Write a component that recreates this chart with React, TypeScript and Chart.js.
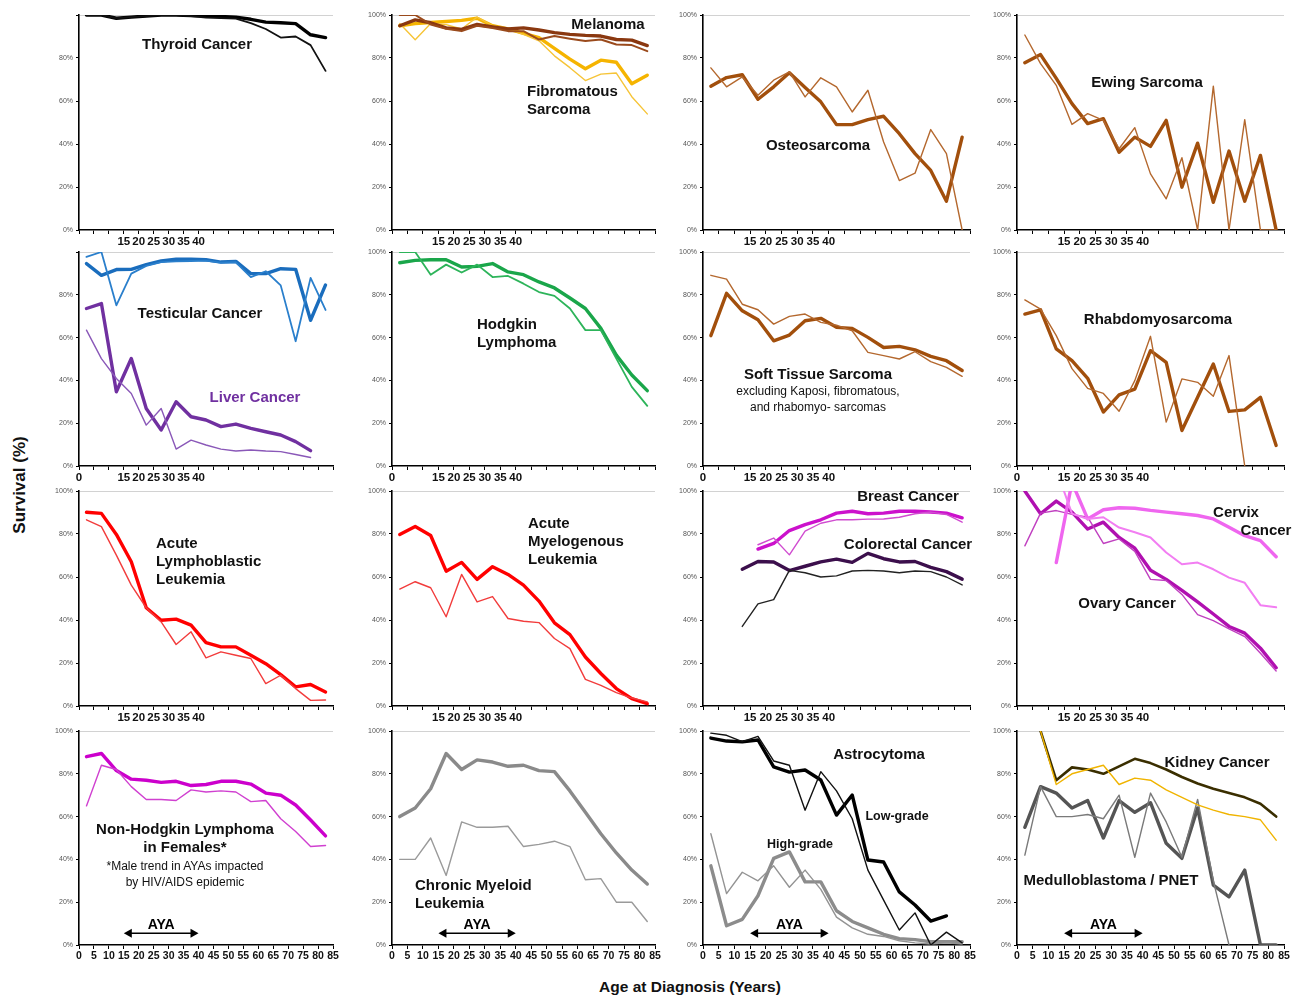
import React, { useEffect, useRef } from 'react';
import { Chart, registerables } from 'chart.js';

Chart.register(...registerables);

// ---------- data ----------
const AGES = [2.5, 7.5, 12.5, 17.5, 22.5, 27.5, 32.5, 37.5, 42.5, 47.5, 52.5, 57.5, 62.5, 67.5, 72.5, 77.5, 82.5];
const AYA_TICKS = [15, 20, 25, 30, 35, 40];
const AYA_TICKS_WITH_ZERO = [0, 15, 20, 25, 30, 35, 40];
const ALL_TICKS = [0, 5, 10, 15, 20, 25, 30, 35, 40, 45, 50, 55, 60, 65, 70, 75, 80, 85];
const Y_TICKS = [0, 20, 40, 60, 80, 100];
const AYA_RANGE = [15, 40];

const thyroidThick = [100, 100, 98.5, 99, 99.5, 100, 100, 99.7, 99.5, 99.3, 99, 98, 96.7, 96.4, 96, 90.8, 89.5];
const thyroidThin = [100, 100, 98.5, 99, 99.5, 100, 100, 99.5, 98.8, 98.5, 98.3, 96.2, 93.5, 89.5, 90, 86, 74];

const melanomaThick = [95, 97.7, 96.4, 94, 93.3, 95.6, 94.5, 93.5, 94, 93, 91.8, 91, 90.5, 90.2, 88.6, 88.3, 85.8];
const melanomaThin = [100, 100, 95.6, 93.6, 92.5, 95, 94, 92.5, 92.5, 88.6, 90.2, 89, 87.9, 88.6, 86.3, 86, 83.2];
const fibroThick = [95, 96, 96.5, 97, 97.5, 98.5, 95, 93.5, 91.5, 89.5, 84.5, 79.5, 75, 79, 78, 68, 72];
const fibroThin = [96, 88.5, 96, 95.5, 93.5, 99, 95, 93.5, 91, 88, 81, 75.5, 69.5, 72.5, 73, 62, 54];

const osteoThick = [66.9, 70.9, 72.2, 60.8, 66.6, 73.1, 66.3, 59.6, 49, 49, 51.3, 52.9, 44.8, 35.5, 27.7, 13.4, 43.2];
const osteoThin = [75.4, 66.6, 71.2, 62.7, 69.7, 73.6, 61.9, 70.8, 66.6, 54.9, 65, 40.9, 23, 26.4, 46.7, 35.5, 0];

const ewingThick = [77.8, 81.6, 70.5, 58.8, 49.5, 51.8, 36.2, 43.2, 38.9, 51, 19.9, 40.4, 12.9, 36.7, 13.4, 34.7, 0];
const ewingThin = [90.7, 77.4, 67.3, 49.1, 54.1, 51, 37.8, 47.6, 26.1, 14.5, 33.6, 0, 66.9, 0, 51.3, 0, 0];

const testicularThick = [94.6, 89.1, 91.8, 91.9, 94.1, 95.8, 96.6, 96.6, 96.4, 95.3, 95.6, 89.9, 89.9, 92.2, 91.9, 68.1, 84.6];
const testicularThin = [97.7, 100, 75.1, 89.9, 93.5, 95.3, 95.6, 95.8, 96, 95, 95.2, 88.3, 91, 84.4, 58.3, 87.9, 72.9];
const liverThick = [73.6, 75.9, 34.7, 50.2, 26.9, 16.8, 30, 23, 21.5, 18.4, 19.6, 17.6, 16, 14.5, 11.4, 7.2, null];
const liverThin = [63.5, 50.2, 40.9, 33.9, 19.1, 26.9, 7.9, 12.1, 9.8, 7.9, 7, 7.5, 7, 6.7, 5.4, 4, null];

const hodgkinThick = [95, 96.1, 96.4, 96.4, 93, 93.3, 94.6, 90.7, 89.4, 86, 83.2, 78.5, 73.6, 64.3, 51.8, 42.5, 35.2];
const hodgkinThin = [100, 100, 89.4, 94.1, 90.4, 94.1, 88.3, 88.8, 85.2, 81.3, 79.5, 73.6, 63.5, 63.5, 50.2, 37, 28.1];

const stsThick = [60.9, 80.7, 72.5, 68.3, 58.5, 61.2, 67.9, 69, 64.8, 64.3, 60.1, 55.4, 55.9, 54.3, 51.2, 49.2, 44.6];
const stsThin = [89.1, 87.3, 75.6, 73, 66.3, 69.9, 71, 67.1, 65.8, 63.2, 53.1, 51.6, 50, 53.4, 48.8, 46.1, 41.9];

const rhabdoThick = [71, 73, 54.7, 49.2, 41, 25.2, 33.2, 35.9, 53.9, 48.4, 16.6, 32.1, 47.7, 25.5, 26.2, 32.1, 9.6];
const rhabdoThin = [77.6, 73.3, 60.9, 45.5, 36.3, 33.9, 25.6, 39.9, 60.6, 20.5, 40.7, 39.1, 32.6, 51.6, 0, null, null];

const allThick = [90.1, 89.6, 79.8, 67.1, 45.7, 39.9, 40.4, 37.6, 29.5, 27.5, 27.5, 23.6, 19.7, 14.6, 8.9, 10, 6.5];
const allThin = [86.6, 83.4, 70.2, 56.2, 45.7, 39.1, 28.6, 34.5, 22.4, 25.2, 23.6, 22.1, 10.4, 14.3, 8.1, 2.6, 2.8];

const amlThick = [79.8, 83.5, 79.3, 62.7, 66.8, 58.9, 64.8, 61.2, 56.2, 48.8, 38.7, 33.2, 22.8, 15.1, 8.1, 3.4, 1.1];
const amlThin = [54.4, 57.8, 55, 41.5, 61.2, 48.4, 50.9, 40.7, 39.4, 38.8, 31.4, 26.7, 12.4, 9.6, 6.2, 3.7, 1.9];

const breastThick = [null, null, null, 73, 75.6, 81.6, 84.4, 86.6, 89.7, 90.6, 89.4, 89.7, 90.6, 90.6, 90.2, 89.7, 87.5];
const breastThin = [null, null, null, 75, 78.1, 70.3, 81.3, 85, 86.6, 86.6, 86.9, 87, 87.8, 89.4, 90.2, 89.1, 85.5];
const colorectalThick = [null, null, 63.6, 67.2, 67, 63, 65, 67, 68.3, 66.8, 71, 68.5, 67, 67.2, 64.5, 62.5, 59];
const colorectalThin = [null, null, 37, 47.5, 49.5, 63.1, 62, 60, 60.5, 62.8, 63.1, 62.8, 62, 62.8, 62.5, 60, 56.3];

const ovaryThick = [100, 89.4, 95.3, 90.2, 82.3, 85.5, 78.4, 73.4, 63.1, 58.9, 53.8, 48.4, 42.8, 37, 33.9, 26.9, 17.8];
const ovaryThin = [74.5, 89.7, 90.9, 89.1, 87.8, 75.6, 77.7, 71.9, 58.9, 58.4, 51.9, 42.5, 39.7, 35.9, 32.3, 24.5, 16.3];
const cervixThick = [null, null, 66.7, 104, 87, 91.3, 92.2, 92, 91, 90.2, 89.4, 88.6, 87, 83.1, 79.2, 76.9, 69.4];
const cervixThin = [null, null, 110, 89.5, 87, 87.8, 83, 80.8, 78.4, 71.4, 65.9, 66.7, 63.6, 59.7, 57.3, 46.9, 45.9];

const nhlThick = [88, 89.5, 81.5, 77.5, 77, 76, 76.5, 74.5, 75, 76.5, 76.5, 75.2, 71, 70, 65.4, 58.4, 51];
const nhlThin = [65, 84, 82, 74, 68, 68, 67.5, 72.5, 71.5, 72, 71.5, 67, 67.5, 59, 53, 46, 46.5];

const cmlThick = [60, 64, 73, 89.5, 82, 86.5, 85.5, 83.5, 84, 81.5, 81, 72, 62, 52, 43, 35, 28.5];
const cmlThin = [40, 40, 50, 32.5, 57.5, 55, 55, 55.5, 46, 47, 48.5, 46, 30.5, 31, 20, 20, 11];

const astroLowThick = [96.7, 95.3, 94.9, 95.8, 83.2, 80.8, 81.8, 77.1, 60.7, 70.1, 39.7, 38.8, 24.8, 18.7, 11.2, 13.6, null];
const astroLowThin = [99, 98, 95, 97.5, 86, 84, 63, 81, 72, 59, 35, 21, 7, 15, 0, 6, 1];
const astroHighThick = [37, 9, 12, 23, 40.5, 43.5, 29.5, 29.5, 16, 11, 8, 5, 3, 2.5, 1.5, 1.5, 1.5];
const astroHighThin = [52, 24, 34, 30, 37, 27, 35, 26, 13, 8, 5, 4, 2, 1, 0.5, 1, 0.5];

const kidneyThick = [null, 100, 77, 83, 82, 80, 83.5, 87, 85, 82, 78.5, 75.5, 73, 71, 69, 66, 60];
const kidneyThin = [null, 100, 75, 80, 82, 84, 75, 78, 77, 72.5, 69, 65.5, 63, 61, 60, 58.5, 49];
const medulloThick = [55, 74, 71, 64, 67.5, 50, 67.5, 62, 66.5, 47.5, 40.5, 64, 28, 22.5, 35, 0, 0];
const medulloThin = [42, 74, 60, 60, 61, 59, 70, 41, 71, 57.5, 41, 68, 30, 0, null, null, null];

// ---------- layout ----------
const COLS = [
  { l: 79, r: 333 },
  { l: 392, r: 655 },
  { l: 703, r: 970 },
  { l: 1017, r: 1284 },
];
const ROWS = [
  { t: 15, b: 230 },
  { t: 252, b: 466 },
  { t: 491, b: 706 },
  { t: 731, b: 945 },
];
const PAD_L = 44;
const PAD_T = 8;
const PAD_R = 8;
const PAD_B = 24;

const TH = 3.4;
const TN = 1.4;

type Series = { values: (number | null)[]; color: string; width: number };
type PanelCfg = { col: number; row: number; series: Series[]; hide100?: boolean };

const PANELS: PanelCfg[] = [
  { col: 0, row: 0, hide100: true, series: [
    { values: thyroidThin, color: '#111', width: TN + 0.4 },
    { values: thyroidThick, color: '#000', width: TH },
  ] },
  { col: 1, row: 0, series: [
    { values: melanomaThin, color: '#9a4a1c', width: TN + 0.6 },
    { values: melanomaThick, color: '#8a3810', width: TH },
    { values: fibroThin, color: '#f6c437', width: TN },
    { values: fibroThick, color: '#f5b400', width: TH },
  ] },
  { col: 2, row: 0, series: [
    { values: osteoThin, color: '#b4682e', width: TN },
    { values: osteoThick, color: '#a24f0c', width: TH },
  ] },
  { col: 3, row: 0, series: [
    { values: ewingThin, color: '#b4682e', width: TN },
    { values: ewingThick, color: '#a24f0c', width: TH },
  ] },
  { col: 0, row: 1, hide100: true, series: [
    { values: testicularThin, color: '#2a7fcc', width: TN + 0.4 },
    { values: testicularThick, color: '#1a6dbd', width: TH },
    { values: liverThin, color: '#8a58b8', width: TN },
    { values: liverThick, color: '#7030a0', width: TH },
  ] },
  { col: 1, row: 1, series: [
    { values: hodgkinThin, color: '#2db45a', width: TN + 0.4 },
    { values: hodgkinThick, color: '#1aa64a', width: TH },
  ] },
  { col: 2, row: 1, series: [
    { values: stsThin, color: '#b4682e', width: TN },
    { values: stsThick, color: '#a24f0c', width: TH },
  ] },
  { col: 3, row: 1, series: [
    { values: rhabdoThin, color: '#b4682e', width: TN },
    { values: rhabdoThick, color: '#a24f0c', width: TH },
  ] },
  { col: 0, row: 2, series: [
    { values: allThin, color: '#f23c3c', width: TN },
    { values: allThick, color: '#ff0000', width: TH },
  ] },
  { col: 1, row: 2, series: [
    { values: amlThin, color: '#f23c3c', width: TN },
    { values: amlThick, color: '#ff0000', width: TH },
  ] },
  { col: 2, row: 2, series: [
    { values: colorectalThin, color: '#222', width: TN },
    { values: colorectalThick, color: '#3c0f4c', width: TH },
    { values: breastThin, color: '#d04cd0', width: TN },
    { values: breastThick, color: '#cc11cc', width: TH },
  ] },
  { col: 3, row: 2, series: [
    { values: cervixThin, color: '#f27ef2', width: TN + 0.6 },
    { values: cervixThick, color: '#ef66ef', width: TH },
    { values: ovaryThin, color: '#c040c0', width: TN },
    { values: ovaryThick, color: '#b010b0', width: TH },
  ] },
  { col: 0, row: 3, series: [
    { values: nhlThin, color: '#d040d0', width: TN },
    { values: nhlThick, color: '#cc00cc', width: TH },
  ] },
  { col: 1, row: 3, series: [
    { values: cmlThin, color: '#9a9a9a', width: TN },
    { values: cmlThick, color: '#8a8a8a', width: TH },
  ] },
  { col: 2, row: 3, series: [
    { values: astroLowThin, color: '#111', width: TN },
    { values: astroLowThick, color: '#000', width: TH },
    { values: astroHighThin, color: '#939393', width: TN },
    { values: astroHighThick, color: '#8c8c8c', width: TH },
  ] },
  { col: 3, row: 3, series: [
    { values: kidneyThin, color: '#f0b400', width: TN },
    { values: kidneyThick, color: '#3a2e00', width: 2.6 },
    { values: medulloThin, color: '#7a7a7a', width: TN },
    { values: medulloThick, color: '#555555', width: TH },
  ] },
];

type Note = { lines: string[]; x: number; y: number; align?: 'c' | 'l'; size?: number; bold?: boolean; color?: string; lh?: number };

const NOTES: Note[] = [
  { lines: ['Thyroid Cancer'], x: 197, y: 44 },
  { lines: ['Melanoma'], x: 608, y: 24 },
  { lines: ['Fibromatous', 'Sarcoma'], x: 527, y: 100, align: 'l' },
  { lines: ['Osteosarcoma'], x: 818, y: 145 },
  { lines: ['Ewing Sarcoma'], x: 1147, y: 82 },
  { lines: ['Testicular Cancer'], x: 200, y: 313 },
  { lines: ['Liver Cancer'], x: 255, y: 397, color: '#7030a0' },
  { lines: ['Hodgkin', 'Lymphoma'], x: 477, y: 333, align: 'l' },
  { lines: ['Soft Tissue Sarcoma'], x: 818, y: 374 },
  { lines: ['excluding Kaposi, fibromatous,', 'and rhabomyo- sarcomas'], x: 818, y: 399, size: 12, bold: false, lh: 15.5 },
  { lines: ['Rhabdomyosarcoma'], x: 1158, y: 319 },
  { lines: ['Acute', 'Lymphoblastic', 'Leukemia'], x: 156, y: 561, align: 'l' },
  { lines: ['Acute', 'Myelogenous', 'Leukemia'], x: 528, y: 541, align: 'l' },
  { lines: ['Breast Cancer'], x: 908, y: 496 },
  { lines: ['Colorectal Cancer'], x: 908, y: 544 },
  { lines: ['Cervix'], x: 1236, y: 512 },
  { lines: ['Cancer'], x: 1266, y: 530 },
  { lines: ['Ovary Cancer'], x: 1127, y: 603 },
  { lines: ['Non-Hodgkin Lymphoma', 'in Females*'], x: 185, y: 838 },
  { lines: ['*Male trend in AYAs impacted', 'by HIV/AIDS epidemic'], x: 185, y: 874, size: 12, bold: false, lh: 16 },
  { lines: ['Chronic Myeloid', 'Leukemia'], x: 415, y: 894, align: 'l' },
  { lines: ['Astrocytoma'], x: 879, y: 754 },
  { lines: ['Low-grade'], x: 897, y: 816, size: 12.5 },
  { lines: ['High-grade'], x: 800, y: 844, size: 12.5 },
  { lines: ['Kidney Cancer'], x: 1217, y: 762 },
  { lines: ['Medulloblastoma / PNET'], x: 1111, y: 880 },
];

const FONT = 'Arial, "Liberation Sans", Helvetica, sans-serif';

const ayaPlugin = {
  id: 'ayaArrow',
  afterDatasetsDraw(chart: any) {
    const { ctx } = chart;
    const xs = chart.scales.x;
    const ys = chart.scales.y;
    const x1 = xs.getPixelForValue(AYA_RANGE[0]);
    const x2 = xs.getPixelForValue(AYA_RANGE[1]);
    const yy = ys.getPixelForValue(5.5);
    ctx.save();
    ctx.strokeStyle = '#000';
    ctx.fillStyle = '#000';
    ctx.lineWidth = 1.6;
    ctx.beginPath();
    ctx.moveTo(x1 + 4, yy);
    ctx.lineTo(x2 - 4, yy);
    ctx.stroke();
    ctx.beginPath();
    ctx.moveTo(x1, yy);
    ctx.lineTo(x1 + 8, yy - 4.5);
    ctx.lineTo(x1 + 8, yy + 4.5);
    ctx.closePath();
    ctx.fill();
    ctx.beginPath();
    ctx.moveTo(x2, yy);
    ctx.lineTo(x2 - 8, yy - 4.5);
    ctx.lineTo(x2 - 8, yy + 4.5);
    ctx.closePath();
    ctx.fill();
    ctx.font = 'bold 14px ' + FONT;
    ctx.textAlign = 'center';
    ctx.textBaseline = 'alphabetic';
    ctx.fillText('AYA', (x1 + x2) / 2, yy - 4);
    ctx.restore();
  },
};

function Panel({ cfg }: { cfg: PanelCfg }) {
  const ref = useRef<HTMLCanvasElement>(null);
  const col = COLS[cfg.col];
  const row = ROWS[cfg.row];
  const w = col.r - col.l + PAD_L + PAD_R;
  const h = row.b - row.t + PAD_T + PAD_B;

  useEffect(() => {
    if (!ref.current) return;
    const labelSet = cfg.row === 3 ? ALL_TICKS : cfg.row === 1 ? AYA_TICKS_WITH_ZERO : AYA_TICKS;
    const chart = new Chart(ref.current, {
      type: 'line',
      data: {
        datasets: cfg.series.map((s) => ({
          data: AGES.map((a, i) => ({ x: a, y: s.values[i] })),
          borderColor: s.color,
          backgroundColor: s.color,
          borderWidth: s.width,
          pointRadius: 0,
          tension: 0,
          fill: false,
          spanGaps: false,
          borderJoinStyle: 'round',
          borderCapStyle: 'round',
        })) as any,
      },
      options: {
        responsive: false,
        animation: false,
        events: [],
        layout: { padding: { top: PAD_T, right: PAD_R, left: 0, bottom: 0 } },
        plugins: { legend: { display: false }, tooltip: { enabled: false }, title: { display: false } },
        scales: {
          x: {
            type: 'linear',
            min: 0,
            max: 85,
            afterFit: (s: any) => {
              s.height = PAD_B;
              s.paddingLeft = 0;
              s.paddingRight = 0;
            },
            ticks: {
              stepSize: 5,
              autoSkip: false,
              maxRotation: 0,
              minRotation: 0,
              padding: 1,
              color: '#111',
              font: cfg.row === 3
                ? { family: FONT, size: 10.5, weight: 'bold' }
                : { family: FONT, size: 11.5, weight: 'bold' },
              callback: (v: any) => (labelSet.includes(Number(v)) ? String(v) : ''),
            },
            grid: { drawOnChartArea: false, drawTicks: true, tickLength: 4, color: '#000', lineWidth: 1 },
            border: { color: '#000', width: 1.6 },
          },
          y: {
            type: 'linear',
            min: 0,
            max: 100,
            afterFit: (s: any) => {
              s.width = PAD_L;
              s.paddingTop = 0;
              s.paddingBottom = 0;
            },
            afterBuildTicks: (s: any) => {
              s.ticks = Y_TICKS.map((v) => ({ value: v }));
            },
            ticks: {
              padding: 3,
              color: '#555',
              font: { family: FONT, size: 7 },
              callback: (v: any) => (cfg.hide100 && Number(v) === 100 ? '' : v + '%'),
            },
            grid: {
              color: (c: any) => (c.tick && c.tick.value === 100 ? '#d2d2d2' : 'rgba(0,0,0,0)'),
              tickColor: '#000',
              tickLength: 3,
              lineWidth: 1,
            },
            border: { color: '#000', width: 1.6 },
          },
        },
      } as any,
      plugins: cfg.row === 3 ? [ayaPlugin] : [],
    });
    return () => chart.destroy();
  }, []);

  return (
    <canvas
      ref={ref}
      width={w}
      height={h}
      style={{ position: 'absolute', left: col.l - PAD_L, top: row.t - PAD_T, width: w, height: h }}
    />
  );
}

function NoteView({ n }: { n: Note }) {
  const size = n.size ?? 15;
  const lh = n.lh ?? 18;
  return (
    <div
      style={{
        position: 'absolute',
        left: n.x,
        top: n.y,
        transform: n.align === 'l' ? 'translate(0,-50%)' : 'translate(-50%,-50%)',
        textAlign: n.align === 'l' ? 'left' : 'center',
        fontFamily: FONT,
        fontSize: size,
        fontWeight: n.bold === false ? 'normal' : 'bold',
        color: n.color ?? '#111',
        lineHeight: lh + 'px',
        whiteSpace: 'nowrap',
      }}
    >
      {n.lines.map((l, i) => (
        <div key={i}>{l}</div>
      ))}
    </div>
  );
}

export default function App() {
  return (
    <div style={{ position: 'absolute', left: 0, top: 0, width: 1298, height: 997, background: '#fff', overflow: 'hidden' }}>
      {PANELS.map((p, i) => (
        <Panel key={i} cfg={p} />
      ))}
      {NOTES.map((n, i) => (
        <NoteView key={i} n={n} />
      ))}
      <div
        style={{
          position: 'absolute',
          left: 20,
          top: 485,
          transform: 'translate(-50%,-50%) rotate(-90deg)',
          fontFamily: FONT,
          fontSize: 17,
          fontWeight: 'bold',
          color: '#111',
          whiteSpace: 'nowrap',
        }}
      >
        Survival (%)
      </div>
      <div
        style={{
          position: 'absolute',
          left: 690,
          top: 987,
          transform: 'translate(-50%,-50%)',
          fontFamily: FONT,
          fontSize: 15.5,
          fontWeight: 'bold',
          color: '#111',
          whiteSpace: 'nowrap',
        }}
      >
        Age at Diagnosis (Years)
      </div>
    </div>
  );
}
